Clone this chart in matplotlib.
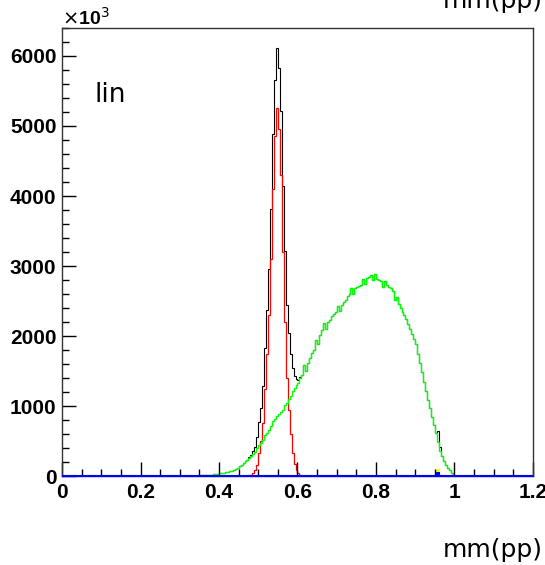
import numpy as np
import matplotlib.pyplot as plt

bw = 0.005  # bin width
nbins = 240  # 0 .. 1.2

# red histogram (narrow peak), first bin starts at 0.465
red_x0 = 0.465
red_vals = [2, 5, 10, 20, 40, 80, 160, 330, 500, 760,
            1250, 1750, 2300, 3100, 4100, 4850, 5250, 4950, 4300, 3200,
            2200, 1400, 950, 600, 330, 170, 80, 40, 15, 6,
            2]

# green histogram (broad), first bin starts at 0.330
green_x0 = 0.330
green_vals = [2, 3, 5, 6, 8, 9, 12, 13, 15, 18,
              20, 24, 28, 33, 40, 42, 50, 55, 60, 68,
              75, 85, 95, 120, 150, 160, 180, 210, 230, 260,
              280, 320, 340, 400, 440, 470, 520, 580, 620, 660,
              720, 780, 810, 860, 880, 920, 950, 1010, 1040, 1100,
              1150, 1220, 1260, 1300, 1330, 1400, 1440, 1580, 1500, 1610,
              1680, 1760, 1800, 1950, 1880, 2020, 2080, 2180, 2100, 2200,
              2230, 2290, 2310, 2350, 2430, 2360, 2440, 2490, 2520, 2570,
              2600, 2680, 2600, 2690, 2700, 2720, 2730, 2820, 2750, 2830,
              2850, 2870, 2800, 2880, 2820, 2800, 2780, 2700, 2790, 2730,
              2700, 2680, 2640, 2520, 2560, 2460, 2400, 2350, 2300, 2240,
              2170, 2100, 2030, 1960, 1880, 1750, 1620, 1480, 1350, 1220,
              1090, 970, 850, 730, 620, 480, 360, 280, 210, 160,
              115, 80, 40, 10]

# small eta' structure, first bin starts at 0.950
etap_x0 = 0.950
black_extra = [0, 160, 60]
blue_vals = [0, 40, 0]
yellow_vals = [0, 80, 0]

xticks = [0, 0.2, 0.4, 0.6, 0.8, 1.0, 1.2]
xtick_labels = ["0", "0.2", "0.4", "0.6", "0.8", "1", "1.2"]
yticks = [0, 1000, 2000, 3000, 4000, 5000, 6000]
ytick_labels = ["0", "1000", "2000", "3000", "4000", "5000", "6000"]


def full(x0, vals):
    h = np.zeros(nbins)
    i0 = int(round(x0 / bw))
    h[i0:i0 + len(vals)] = vals
    return h


edges = np.linspace(0, 1.2, nbins + 1)
h_red = full(red_x0, red_vals)
h_green = full(green_x0, green_vals)
h_black = h_red + h_green + full(etap_x0, black_extra)
h_yellow = full(etap_x0, yellow_vals)
h_blue = full(etap_x0, blue_vals)

fig = plt.figure(figsize=(5.45, 5.65), dpi=100)
ax = fig.add_axes([62 / 545, 89 / 565, 471 / 545, 448 / 565])

ax.stairs(h_black, edges, color="black", lw=0.8)
ax.stairs(h_red, edges, color="red", lw=0.9)
ax.stairs(h_green, edges, color="#00ff00", lw=1.0)
ax.stairs(h_yellow, edges, color="yellow", lw=1.5)
ax.stairs(h_blue, edges, color="blue", lw=1.5, clip_on=False, zorder=5)

ax.set_xlim(0, 1.2)
ax.set_ylim(0, 6400)

ax.set_xticks(xticks)
ax.set_xticklabels(xtick_labels)
ax.set_xticks(np.arange(0, 1.2001, 0.05), minor=True)
ax.set_yticks(yticks)
ax.set_yticklabels(ytick_labels)
ax.set_yticks(np.arange(0, 6401, 200), minor=True)

ax.tick_params(which="both", direction="in", top=False, right=False, width=1)
ax.tick_params(which="major", length=10)
ax.tick_params(which="minor", length=5)
ax.tick_params(axis="x", pad=5)
ax.tick_params(axis="y", pad=4)
for lab in ax.get_xticklabels() + ax.get_yticklabels():
    lab.set_fontfamily("Liberation Sans")
    lab.set_fontweight("bold")
    lab.set_fontsize(15)
for sp in ax.spines.values():
    sp.set_linewidth(1)
    sp.set_color("#333333")

fig.text(62 / 545, 1 - 25 / 565, r"$\times$10$^{3}$", fontfamily="Liberation Sans",
         fontweight="bold", fontsize=14, ha="left", va="baseline")
ax.text(0.068, 0.835, "lin", fontsize=19, ha="left", va="baseline",
        transform=ax.transAxes)
fig.text(543 / 545, 1 - 557 / 565, "mm(pp)", fontsize=18, ha="right", va="baseline")
fig.text(543 / 545, 1 - 8 / 565, "mm(pp)", fontsize=18, ha="right", va="baseline")

fig.savefig("out.png", dpi=100)
